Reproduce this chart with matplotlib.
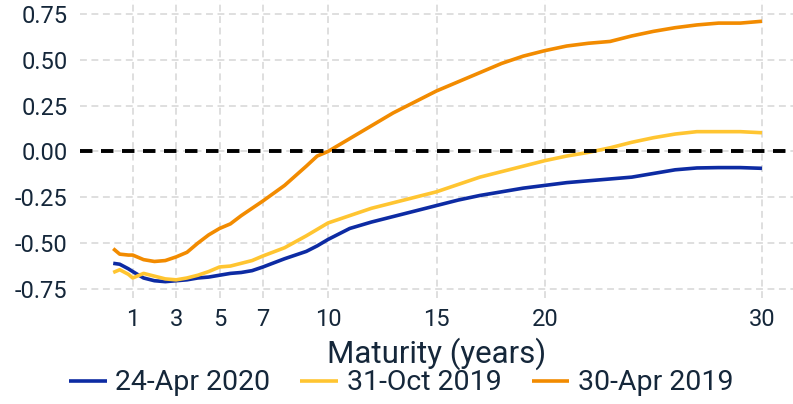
import matplotlib
matplotlib.use("Agg")
import matplotlib.pyplot as plt

plt.rcParams['font.family'] = ['Roboto', 'DejaVu Sans']

maturity = [0.1, 0.4, 0.8, 1, 1.5, 2, 2.5, 3, 3.5, 4, 4.5, 5, 5.5, 6, 6.5, 7, 8, 9, 9.5, 10,
            11, 12, 13, 14, 15, 16, 17, 18, 19, 20, 21, 22, 23, 24, 25, 26, 27, 28, 29, 30]

apr2020 = [-0.61, -0.615, -0.64, -0.655, -0.69, -0.705, -0.71, -0.705, -0.70, -0.69, -0.685, -0.675,
           -0.665, -0.66, -0.65, -0.63, -0.585, -0.545, -0.515, -0.48,
           -0.42, -0.385, -0.355, -0.325, -0.295, -0.265, -0.24, -0.22, -0.20, -0.185,
           -0.17, -0.16, -0.15, -0.14, -0.12, -0.10, -0.09, -0.088, -0.088, -0.092]

oct2019 = [-0.66, -0.645, -0.67, -0.69, -0.665, -0.68, -0.695, -0.70, -0.69, -0.675, -0.655, -0.63,
           -0.625, -0.61, -0.595, -0.57, -0.525, -0.46, -0.425, -0.39,
           -0.35, -0.31, -0.28, -0.25, -0.22, -0.18, -0.14, -0.11, -0.08, -0.05,
           -0.025, -0.005, 0.02, 0.05, 0.075, 0.095, 0.108, 0.108, 0.108, 0.102]

apr2019 = [-0.53, -0.56, -0.565, -0.565, -0.59, -0.60, -0.595, -0.575, -0.55, -0.50, -0.455, -0.42,
           -0.395, -0.35, -0.31, -0.27, -0.185, -0.08, -0.025, 0.0,
           0.07, 0.14, 0.21, 0.27, 0.33, 0.38, 0.43, 0.48, 0.52, 0.55,
           0.575, 0.59, 0.60, 0.63, 0.655, 0.675, 0.69, 0.70, 0.70, 0.71]

series_labels = ['24-Apr 2020', '31-Oct 2019', '30-Apr 2019']
xticks = [1, 3, 5, 7, 10, 15, 20, 30]
yticks = [-0.75, -0.50, -0.25, 0.00, 0.25, 0.50, 0.75]

colors = ['#0d2ba3', '#ffc531', '#f28b00']
text_color = '#15273a'

fig = plt.figure(figsize=(7.93, 4.04), dpi=100)
ax = fig.add_axes([0.1009, 0.262, 0.8991, 0.738])

for y, lab, c in zip([apr2020, oct2019, apr2019], series_labels, colors):
    ax.plot(maturity, y, color=c, lw=2.6, label=lab, solid_capstyle='butt', zorder=3)

ax.axhline(0, color='black', lw=2.8, linestyle=(0, (3.2, 2.2)), zorder=4)

ax.set_xlim(-1.43, 31.43)
ax.set_ylim(-0.80, 0.826)
ax.set_xticks(xticks)
ax.set_xticklabels([str(t) for t in xticks])
ax.set_yticks(yticks)
ax.set_yticklabels([f"{t:.2f}" for t in yticks])
ax.grid(True, color='#d6d6d6', linestyle=(0, (4.5, 3)), lw=1.1, zorder=0)
for s in ax.spines.values():
    s.set_visible(False)
ax.tick_params(length=0, labelsize=17, colors=text_color)
ax.tick_params(axis='y', pad=9)
ax.tick_params(axis='x', pad=7)
ax.set_xlabel('Maturity (years)', fontsize=22.5, color=text_color, labelpad=5)

fig.legend(loc='center', bbox_to_anchor=(0.506, 0.052), ncol=3, frameon=False,
           fontsize=20.5, handlelength=1.33, handletextpad=0.3, columnspacing=1.05,
           labelcolor=text_color, borderaxespad=0, borderpad=0)

fig.savefig('out.png', dpi=100)
